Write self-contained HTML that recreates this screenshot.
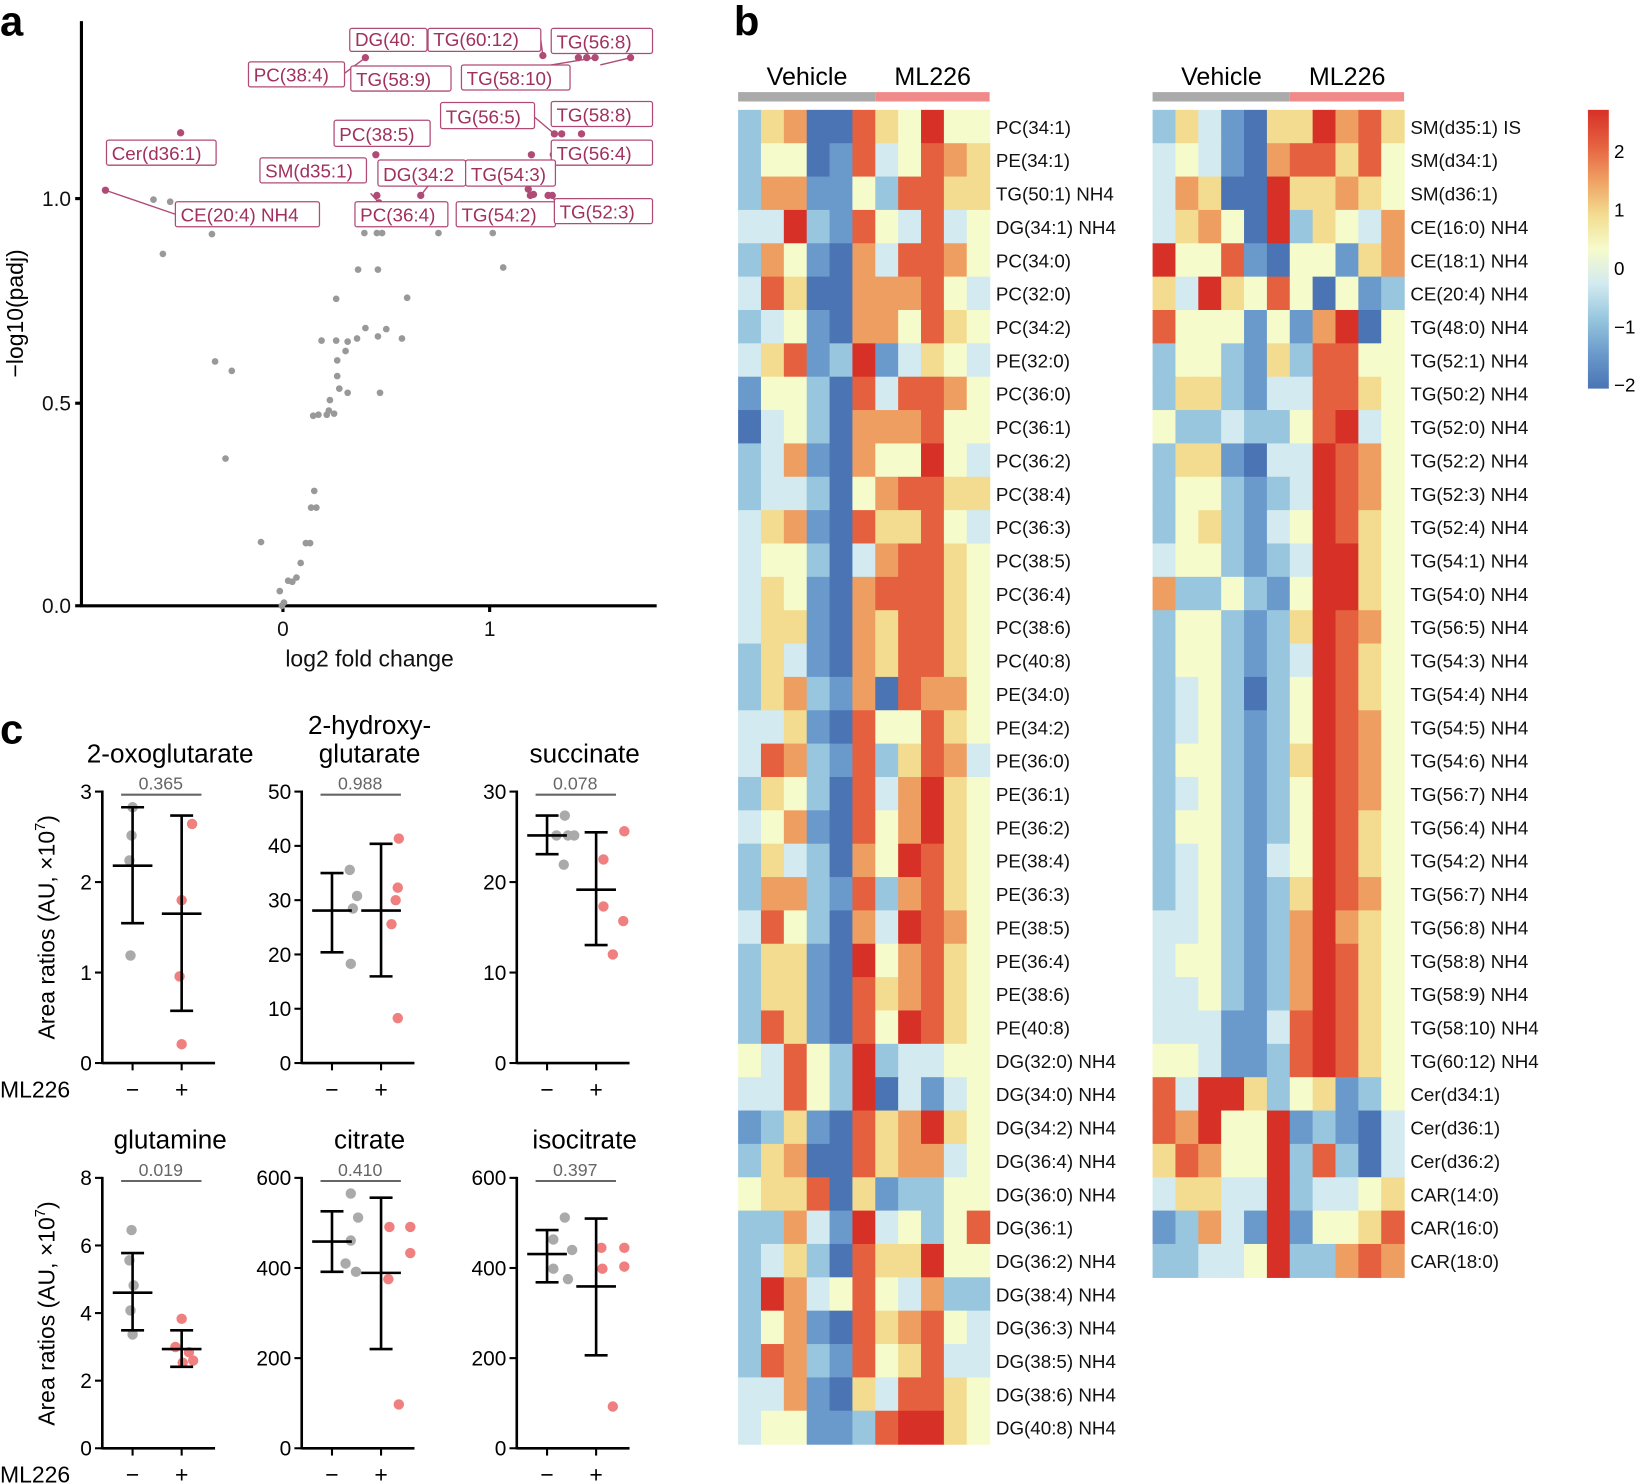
<!DOCTYPE html>
<html><head><meta charset="utf-8"><style>
html,body{margin:0;padding:0;background:#fff}
svg{display:block;font-family:"Liberation Sans",Arial,sans-serif}
.lb{fill:#a0305e;font-size:18px}
.bx{fill:#fff;stroke:#b04a76;stroke-width:1.2}
.rl{font-size:18px;fill:#111}
</style></head><body>
<svg id="s" width="1637" height="1484" viewBox="0 0 1568 1421" xmlns="http://www.w3.org/2000/svg">
<rect width="1568" height="1421" fill="#fff"/>
<text x="0" y="34" font-size="40" font-weight="bold">a</text>
<text x="703" y="34" font-size="40" font-weight="bold">b</text>
<text x="0" y="712" font-size="40" font-weight="bold">c</text>
<g stroke="#000" stroke-width="3" fill="none">
<line x1="78" y1="20" x2="78" y2="581"/><line x1="77" y1="580" x2="629" y2="580"/>
<line x1="72" y1="580" x2="78" y2="580"/><line x1="72" y1="386" x2="78" y2="386"/><line x1="72" y1="190" x2="78" y2="190"/>
<line x1="271" y1="580" x2="271" y2="586"/><line x1="469" y1="580" x2="469" y2="586"/>
</g>
<g font-size="20" fill="#111" text-anchor="end">
<text x="68" y="587">0.0</text><text x="68" y="393">0.5</text><text x="68" y="197">1.0</text>
</g>
<g font-size="20" fill="#111" text-anchor="middle">
<text x="271" y="609">0</text><text x="469" y="609">1</text>
<text x="354" y="638" font-size="22">log2 fold change</text>
</g>
<text transform="translate(22,300) rotate(-90)" font-size="22" text-anchor="middle">−log10(padj)</text>
<g id="pa"></g>
<g id="hm"></g>
<g id="pc"></g>
</svg>
<script>
var NS="http://www.w3.org/2000/svg";
function el(p,t,a,txt){var e=document.createElementNS(NS,t);for(var k in a)e.setAttribute(k,a[k]);if(txt!=null)e.textContent=txt;p.appendChild(e);return e;}
var pa=document.getElementById('pa');
var grey=[[147,191],[163,193],[156,243],[203,224],[206,346],[222,355],[216,439],[250,519],[268,566],[270,580],[272,577],[276,556],[280,557],[284,553],[288,539],[293,520],[297,520],[303,486],[298,486],[301,470],[300,398],[305,397],[315,393],[316,383],[313,397],[320,396],[323,345],[331,336],[323,360],[325,372],[322,326],[333,327],[342,324],[350,314],[362,322],[370,315],[385,324],[333,376],[364,376],[322,286],[343,258],[362,258],[390,285],[349,223],[361,223],[366,223],[420,223],[472,223],[482,256],[308,326]];
grey.forEach(function(p){el(pa,'circle',{cx:p[0],cy:p[1],r:3.2,fill:'#999'});});
var mag=[[101,182],[173,127],[350,55],[360,148],[361,187],[363,194],[403,187],[506,181],[509,148],[520,53],[554,55],[562,55],[570,55],[604,55],[531,128],[538,128],[557,128],[525,187],[529,187],[511,186],[530,148],[508,187]];
mag.forEach(function(p){el(pa,'circle',{cx:p[0],cy:p[1],r:3.5,fill:'#b04a76'});});
var lines=[[101,182,168,205],[350,55,330,70],[363,194,355,185],[403,187,410,178],[520,53,518,38],[570,55,528,62],[604,55,575,62],[531,128,512,112],[529,187,535,200]];
lines.forEach(function(l){el(pa,'line',{x1:l[0],y1:l[1],x2:l[2],y2:l[3],stroke:'#b04a76','stroke-width':1.3});});
var labs=[[335,27,74,22,'DG(40:'],[410,27,108,22,'TG(60:12)'],[528,27,97,24,'TG(56:8)'],[238,59,92,24,'PC(38:4)'],[336,63,96,24,'TG(58:9)'],[442,62,104,24,'TG(58:10)'],[422,98,90,25,'TG(56:5)'],[528,97,97,24,'TG(58:8)'],[320,115,92,25,'PC(38:5)'],[102,134,105,24,'Cer(d36:1)'],[528,134,97,24,'TG(56:4)'],[249,151,102,24,'SM(d35:1)'],[362,153,84,25,'DG(34:2'],[446,153,86,25,'TG(54:3)'],[168,193,138,24,'CE(20:4) NH4'],[340,193,89,24,'PC(36:4)'],[437,193,95,24,'TG(54:2)'],[531,190,94,24,'TG(52:3)']];
labs.forEach(function(b){el(pa,'rect',{x:b[0],y:b[1],width:b[2],height:b[3],rx:2,'class':'bx'});el(pa,'text',{x:b[0]+5,y:b[1]+b[3]-5,'class':'lb'},b[4]);});
var cm={a:'#4a74b4',b:'#6a9acb',c:'#98c6de',d:'#d2eaf0',e:'#f6fbcc',f:'#f3dc8f',g:'#ef9e62',h:'#e5603f',i:'#d73027'};
var L=[['PC(34:1)','cfgaahfeiee'],['PE(34:1)','ceeabhdehgf'],['TG(50:1) NH4','cggbbechhff'],['DG(34:1) NH4','ddicbhedhde'],['PC(34:0)','cgebagdhhge'],['PC(32:0)','dhfaaggghed'],['PC(34:2)','cdebaggehfe'],['PE(32:0)','dfhbcibdfed'],['PC(36:0)','beecahdhhge'],['PC(36:1)','adecaggghee'],['PC(36:2)','cdgbageeied'],['PC(38:4)','cddcaeghhff'],['PC(36:3)','dfgbahffhed'],['PC(38:5)','deecadghhfe'],['PC(36:4)','dfebaghhhfe'],['PC(38:6)','dffbagfhhfe'],['PC(40:8)','cfdbagfhhfe'],['PE(34:0)','cfgcbgahgge'],['PE(34:2)','ddfbaheehfe'],['PE(36:0)','dhgcbhcfhgd'],['PE(36:1)','cfecahdgife'],['PE(36:2)','degbahegife'],['PE(38:4)','cfdcageihfe'],['PE(36:3)','cggcbhcghfe'],['PE(38:5)','dhecagdihge'],['PE(36:4)','cffbaieghfe'],['PE(38:6)','cffbahfghfe'],['PE(40:8)','chfbaheihfe'],['DG(32:0) NH4','edhecicddee'],['DG(34:0) NH4','ddhecIadbde'],['DG(34:2) NH4','bcfbahfgife'],['DG(36:4) NH4','cfgaahfggde'],['DG(36:0) NH4','effhafbccee'],['DG(36:1)','ccgdbideceh'],['DG(36:2) NH4','cdfcahffiee'],['DG(38:4) NH4','cigdehedgcc'],['DG(36:3) NH4','cegbahfghed'],['DG(38:5) NH4','chgcbhefhdd'],['DG(38:6) NH4','ddgbafdhhfe'],['DG(40:8) NH4','deebbchiife']];
var R=[['SM(d35:1) IS','cfdbaffighf'],['SM(d34:1)','dedbaghhfhe'],['SM(d36:1)','dgfaaiffgfe'],['CE(16:0) NH4','dfgeaicfedg'],['CE(18:1) NH4','ieehbaeebfg'],['CE(20:4) NH4','fdifeheaebc'],['TG(48:0) NH4','heeebebgiae'],['TG(52:1) NH4','ceecbfchhee'],['TG(50:2) NH4','cffcbddhhfe'],['TG(52:0) NH4','eccdccehide'],['TG(52:2) NH4','cffbaddihge'],['TG(52:3) NH4','ceecbcdihge'],['TG(52:4) NH4','cefcbdeihfe'],['TG(54:1) NH4','deecbcdiife'],['TG(54:0) NH4','gccecbeiife'],['TG(56:5) NH4','ceecbcfihge'],['TG(54:3) NH4','ceecbcdihfe'],['TG(54:4) NH4','cdecaceihfe'],['TG(54:5) NH4','cdecbceihge'],['TG(54:6) NH4','ceecbcfihge'],['TG(56:7) NH4','cdecbceihge'],['TG(56:4) NH4','ceecbceihfe'],['TG(54:2) NH4','cdecbdeihfe'],['TG(56:7) NH4','cdecbcfihge'],['TG(56:8) NH4','ddecbcgigfe'],['TG(58:8) NH4','deecbcgihfe'],['TG(58:9) NH4','ddecbcgihfe'],['TG(58:10) NH4','dddbbdhihfe'],['TG(60:12) NH4','eedbbchihfe'],['Cer(d34:1)','hdiifcefbce'],['Cer(d36:1)','hgieeibcbad'],['Cer(d36:2)','fhgeeichcad'],['CAR(14:0)','dffddicddef'],['CAR(16:0)','bcgdbibeefh'],['CAR(18:0)','ccddeiccghg']];
var hm=document.getElementById('hm');
var cw=21.9,rh=31.95,ty=105;
function heat(x0,data){
 el(hm,'rect',{x:x0,y:88,width:cw*6,height:9,fill:'#aaa'});
 el(hm,'rect',{x:x0+cw*6,y:88,width:cw*5,height:9,fill:'#f08a8a'});
 el(hm,'text',{x:x0+66,y:81,'font-size':24,'text-anchor':'middle'},'Vehicle');
 el(hm,'text',{x:x0+cw*6+55,y:81,'font-size':24,'text-anchor':'middle'},'ML226');
 data.forEach(function(r,i){
  for(var j=0;j<11;j++){var c=cm[(r[1][j]||'e').toLowerCase()]||cm.e;
   el(hm,'rect',{x:x0+j*cw,y:ty+i*rh,width:cw+0.6,height:rh+0.6,fill:c});}
  el(hm,'text',{x:x0+11*cw+6,y:ty+i*rh+23,'class':'rl'},r[0]);
 });
}
heat(707,L);heat(1104,R);
var cols=['#d73027','#e5603f','#ef9e62','#f3dc8f','#f6fbcc','#d2eaf0','#98c6de','#6a9acb','#4a74b4'];
var g=document.createElementNS(NS,'linearGradient');g.setAttribute('id','cb');g.setAttribute('x1','0');g.setAttribute('y1','0');g.setAttribute('x2','0');g.setAttribute('y2','1');
cols.forEach(function(c,i){el(g,'stop',{offset:(i/8),'stop-color':c});});
document.getElementById('s').appendChild(g);
el(hm,'rect',{x:1521,y:105,width:20,height:267,fill:'url(#cb)'});
[['2',151],['1',207],['0',263],['−1',319],['−2',375]].forEach(function(t){el(hm,'text',{x:1546,y:t[1],'font-size':18},t[0]);});
var pc=document.getElementById('pc');
function plot(ax,y0,y1,ticks,title,pv,gp,gm,pp,pm,showML){
 var x1=ax+118;
 el(pc,'line',{x1:ax,y1:y0-1,x2:ax,y2:y1+1,stroke:'#000','stroke-width':2.5});
 el(pc,'line',{x1:ax,y1:y1,x2:x1-10,y2:y1,stroke:'#000','stroke-width':2.5});
 ticks.forEach(function(t){el(pc,'line',{x1:ax-7,y1:t[1],x2:ax,y2:t[1],stroke:'#000','stroke-width':2});
  el(pc,'text',{x:ax-10,y:t[1]+7,'font-size':20,'text-anchor':'end'},t[0]);});
 var tx=[ax+29,ax+76];
 tx.forEach(function(x,i){el(pc,'line',{x1:x,y1:y1,x2:x,y2:y1+7,stroke:'#000','stroke-width':2});
  el(pc,'text',{x:x,y:y1+33,'font-size':22,'text-anchor':'middle'},i?'+':'−');});
 if(showML)el(pc,'text',{x:0,y:y1+33,'font-size':22},'ML226');
 title.forEach(function(t,i){el(pc,'text',{x:ax+65,y:y0-28-(title.length-1-i)*27,'font-size':25,'text-anchor':'middle'},t);});
 el(pc,'line',{x1:ax+18,y1:y0+3,x2:ax+95,y2:y0+3,stroke:'#666','stroke-width':2});
 el(pc,'text',{x:ax+56,y:y0-2,'font-size':17,fill:'#666','text-anchor':'middle'},pv);
 gp.forEach(function(p){el(pc,'circle',{cx:p[0],cy:p[1],r:5,fill:'#aaa'});});
 pp.forEach(function(p){el(pc,'circle',{cx:p[0],cy:p[1],r:5,fill:'#f08080'});});
 [[tx[0],gm],[tx[1],pm]].forEach(function(q){var x=q[0],m=q[1];
  el(pc,'line',{x1:x,y1:m[1],x2:x,y2:m[2],stroke:'#000','stroke-width':2.5});
  el(pc,'line',{x1:x-11,y1:m[1],x2:x+11,y2:m[1],stroke:'#000','stroke-width':2.5});
  el(pc,'line',{x1:x-11,y1:m[2],x2:x+11,y2:m[2],stroke:'#000','stroke-width':2.5});
  el(pc,'line',{x1:x-19,y1:m[0],x2:x+19,y2:m[0],stroke:'#000','stroke-width':2.5});});
}
function tk(vals,y0,y1){var n=vals.length-1;return vals.map(function(v,i){return [v,y0+(y1-y0)*i/n];});}
plot(98,758,1018,tk(['3','2','1','0'],758,1018),['2-oxoglutarate'],'0.365',[[127,773],[126,800],[124,824],[125,915]],[829,773,884],[[184,789],[174,862],[172,935],[174,1000]],[875,781,968],true);
plot(289,758,1018,tk(['50','40','30','20','10','0'],758,1018),['2-hydroxy-','glutarate'],'0.988',[[335,833],[342,858],[338,870],[336,923]],[872,836,912],[[382,803],[381,850],[379,862],[375,885],[381,975]],[872,808,935],false);
plot(495,758,1018,tk(['30','20','10','0'],758,1018),['succinate'],'0.078',[[541,781],[544,800],[533,800],[550,800],[540,828]],[800,781,818],[[598,796],[578,823],[578,868],[597,882],[587,914]],[852,797,905],false);
plot(98,1128,1387,tk(['8','6','4','2','0'],1128,1387),['glutamine'],'0.019',[[126,1178],[124,1207],[128,1231],[125,1255],[127,1278]],[1238,1200,1274],[[174,1263],[168,1290],[181,1295],[175,1305],[185,1303]],[1292,1274,1309],true);
plot(289,1128,1387,tk(['600','400','200','0'],1128,1387),['citrate'],'0.410',[[336,1143],[343,1166],[336,1188],[331,1210],[341,1218]],[1189,1160,1218],[[373,1175],[393,1175],[393,1200],[372,1225],[382,1345]],[1219,1147,1292],false);
plot(495,1128,1387,tk(['600','400','200','0'],1128,1387),['isocitrate'],'0.397',[[541,1166],[530,1187],[548,1197],[530,1215],[544,1225]],[1201,1178,1228],[[576,1195],[598,1195],[577,1215],[598,1213],[587,1347]],[1232,1167,1298],false);
[888,1258].forEach(function(y){var t=el(pc,'text',{transform:'translate(52,'+y+') rotate(-90)','font-size':22,'text-anchor':'middle'},'Area ratios (AU, ×10');
 el(t,'tspan',{'font-size':14,dy:-9},'7');el(t,'tspan',{dy:9},')');});
</script>
</body></html>
